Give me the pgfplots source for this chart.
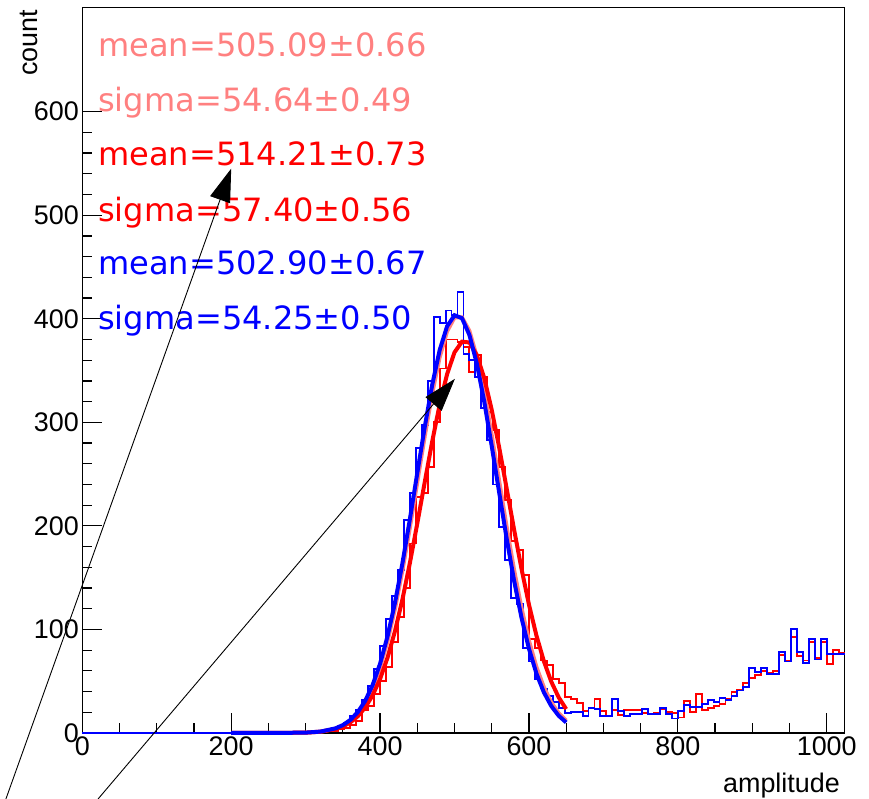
\documentclass[border=0pt]{standalone}
\usepackage{fontspec}
\setmainfont{Liberation Sans}
\newfontfamily\dejavu{DejaVu Sans}
\usepackage{pgfplots}
\pgfplotsset{compat=1.18}
\usetikzlibrary{arrows.meta}
\definecolor{pinkc}{RGB}{255,128,128}
\begin{document}
\begin{tikzpicture}
\begin{axis}[
  scale only axis, width=762.3bp, height=725.7bp,
  xmin=0, xmax=1024, ymin=0, ymax=700.8,
  axis line style={line width=1.5bp},
  xtick={0,200,...,1000}, minor x tick num=3,
  ytick={0,100,...,600}, minor y tick num=4,
  tick align=inside, xtick pos=bottom, ytick pos=left,
  major tick length=20bp, minor tick length=10bp,
  tick style={black, line width=1.2bp},
  ticklabel style={font=\fontsize{27}{32}\selectfont},
  /pgf/number format/assume math mode=true,
  /pgf/number format/1000 sep={},
  clip=false,
]
% histograms
\addplot[color=red, line width=1.9bp, mark=none, const plot] coordinates {
(0,0) (296,0) (304,1) (312,1) (320,1) (328,2) (336,2) (344,4) (352,5) (360,8) (368,12) (376,22) (384,26) (392,38) (400,50) (408,64) (416,88) (424,112) (432,140) (440,183) (448,228) (456,232) (464,257) (472,300) (480,352) (488,380) (496,380) (504,378) (512,373) (520,349) (528,365) (536,344) (544,310) (552,293) (560,257) (568,225) (576,185) (584,177) (592,153) (600,91) (608,82) (616,70) (624,66) (632,52) (640,48) (648,35) (656,33) (664,29) (672,21) (680,24) (688,33) (696,21) (704,16) (712,22) (720,17) (728,22) (736,22) (744,22) (752,19) (760,18) (768,19) (776,23) (784,20) (792,19) (800,15) (808,31) (816,20) (824,38) (832,22) (840,24) (848,26) (856,28) (864,33) (872,40) (880,42) (888,48) (896,53) (904,56) (912,60) (920,58) (928,60) (936,75) (944,70) (952,93) (960,74) (968,70) (976,88) (984,72) (992,88) (1000,67) (1008,80) (1016,77) (1024,77)
};
\addplot[color=blue, line width=1.9bp, mark=none, const plot] coordinates {
(0,0) (296,1) (304,0) (312,2) (320,2) (328,3) (336,5) (344,7) (352,10) (360,16) (368,22) (376,32) (384,45) (392,62) (400,84) (408,110) (416,132) (424,157) (432,206) (440,232) (448,275) (456,297) (464,340) (472,402) (480,396) (488,408) (496,404) (504,426) (512,366) (520,360) (528,344) (536,314) (544,283) (552,240) (560,199) (568,167) (576,130) (584,125) (592,82) (600,69) (608,52) (616,43) (624,36) (632,30) (640,24) (648,19) (656,20) (664,20) (672,16) (680,24) (688,23) (696,16) (704,16) (712,33) (720,21) (728,16) (736,18) (744,18) (752,23) (760,18) (768,18) (776,24) (784,18) (792,14) (800,21) (808,27) (816,25) (824,25) (832,28) (840,32) (848,30) (856,34) (864,32) (872,36) (880,41) (888,44) (896,63) (904,59) (912,63) (920,57) (928,57) (936,78) (944,69) (952,100) (960,78) (968,68) (976,91) (984,71) (992,91) (1000,76) (1008,76) (1016,76) (1024,76)
};
% fits
\addplot[color=pinkc, line width=4bp, mark=none, sharp plot] coordinates {
(200,0) (250,0.01) (300,0.35) (320,1.3) (340,4.2) (350,7.2) (360,11.9) (370,19.0) (380,29.3) (390,43.8) (400,63.4) (410,88.7) (420,119.9) (430,156.8) (440,198.2) (450,242.4) (460,286.7) (470,327.9) (480,362.7) (490,387.9) (500,401.3) (510,401.4) (520,388.3) (530,363.2) (540,328.6) (550,287.5) (560,243.3) (570,199.0) (580,157.5) (590,120.5) (600,89.1) (610,63.8) (620,44.2) (630,29.5) (640,19.1) (650,12.0)
};
\addplot[color=red, line width=4bp, mark=none, sharp plot] coordinates {
(200,0) (250,0.01) (300,0.36) (320,1.23) (340,3.77) (350,6.31) (360,10.2) (370,16.1) (380,24.6) (390,36.4) (400,52.2) (410,72.7) (420,98.3) (430,128.9) (440,164.0) (450,202.4) (460,242.3) (470,281.4) (480,317.1) (490,346.5) (500,367.6) (510,377.9) (520,377.1) (530,364.9) (540,342.6) (550,312.0) (560,275.7) (570,236.3) (580,196.5) (590,158.5) (600,124.0) (610,94.2) (620,69.4) (630,49.5) (640,34.3) (650,23.1)
};
\addplot[color=blue, line width=4bp, mark=none, sharp plot] coordinates {
(200,0) (250,0.01) (300,0.37) (320,1.37) (340,4.45) (350,7.61) (360,12.6) (370,20.1) (380,31.0) (390,46.3) (400,66.9) (410,93.3) (420,125.7) (430,163.8) (440,206.3) (450,251.1) (460,295.5) (470,336.1) (480,369.6) (490,392.7) (500,403.4) (510,400.6) (520,384.4) (530,356.6) (540,319.7) (550,277.1) (560,232.2) (570,188.0) (580,147.2) (590,111.3) (600,81.4) (610,57.5) (620,39.3) (630,26.0) (640,16.6) (650,10.2)
};
% annotations
\tikzset{ann/.style={anchor=base west, inner sep=0pt, font=\dejavu\fontsize{32.2}{37}\selectfont}}
\node[ann, text=pinkc] at (axis cs:21.1,652.8) {mean=505.09±0.66};
\node[ann, text=pinkc] at (axis cs:21.1,599.7) {sigma=54.64±0.49};
\node[ann, text=red] at (axis cs:21.1,547.6) {mean=514.21±0.73};
\node[ann, text=red] at (axis cs:21.1,494.4) {sigma=57.40±0.56};
\node[ann, text=blue] at (axis cs:21.1,442.3) {mean=502.90±0.67};
\node[ann, text=blue] at (axis cs:21.1,389.2) {sigma=54.25±0.50};
% arrows
\draw[black, line width=0.9bp, -{Triangle[length=33bp,width=21bp]}] (axis cs:-102.6,-63.7) -- (axis cs:200,545);
\draw[black, line width=0.9bp, -{Triangle[length=33bp,width=21bp]}] (axis cs:21.2,-63.7) -- (axis cs:500.5,342);
\end{axis}
\node[rotate=90, anchor=base east, inner sep=0pt, font=\fontsize{27}{32}\selectfont] at ([shift={(-45.3bp,-2.7bp)}]current axis.north west) {count};
\node[anchor=base east, inner sep=0pt, font=\fontsize{27}{32}\selectfont] at ([shift={(-4.6bp,-59bp)}]current axis.south east) {amplitude};
\pgfresetboundingbox
\path ([shift={(-82.3bp,-66bp)}]current axis.south west) rectangle ([shift={(24.4bp,7.3bp)}]current axis.north east);
\end{tikzpicture}
\end{document}
